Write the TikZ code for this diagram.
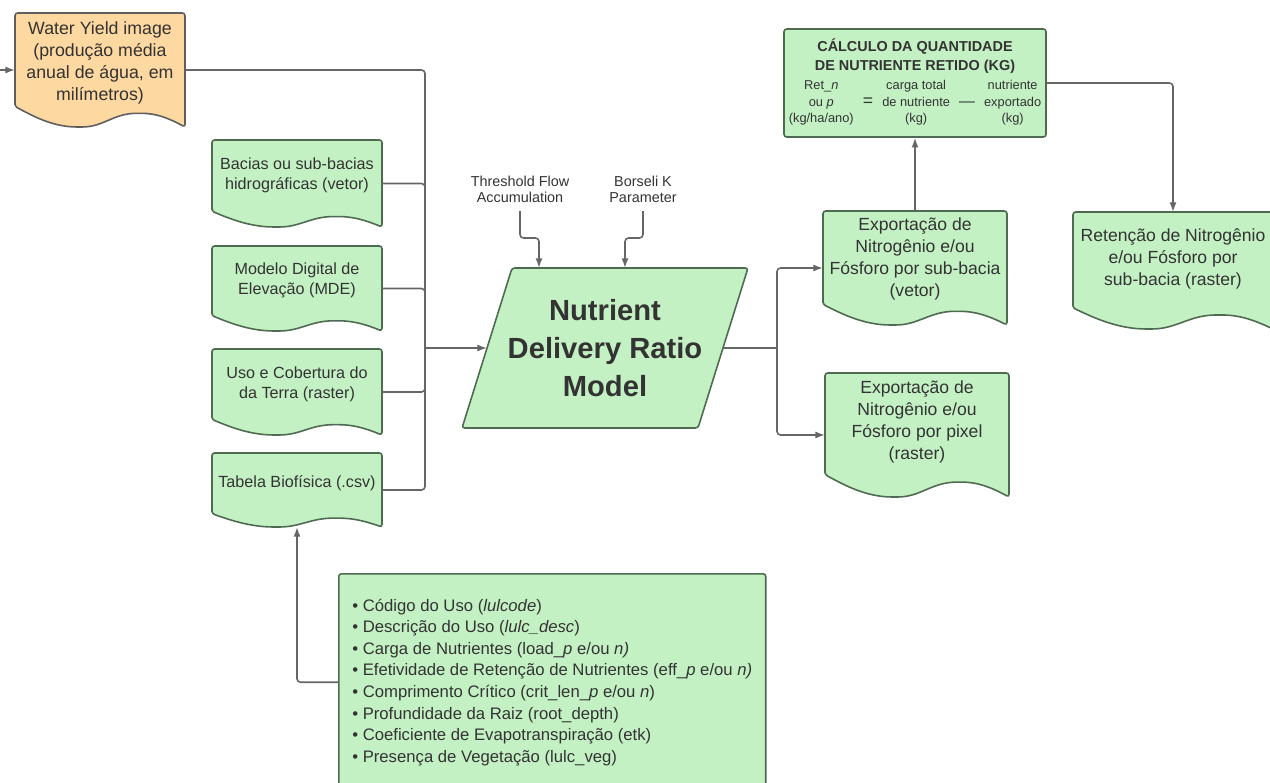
\documentclass[tikz,border=0pt]{standalone}
\usepackage{fontspec}
\setmainfont{Liberation Sans}
\usetikzlibrary{arrows.meta,calc,backgrounds}
\definecolor{NDRgreen}{HTML}{C4F1C4}
\definecolor{NDRedge}{HTML}{4E6A50}
\definecolor{NDRorange}{HTML}{FDD8A0}
\definecolor{NDRgrey}{HTML}{5E5E5E}
\definecolor{NDRline}{HTML}{666666}
\definecolor{NDRtext}{HTML}{333333}

% document shape with wavy bottom, drawn round a frame node
\newcommand{\docshape}[3]{%
  \draw[boxline, draw=#3, fill=#2]
    let \p1=(#1.north west), \p2=(#1.south east),
        \n1={\x2-\x1}, \n2={\y1-\y2} in
    (\x1,\y2+0.18*\n2) -- (\x1,\y1) -- (\x2,\y1) -- (\x2,\y2)
    .. controls (\x2-0.1*\n1,\y2+0.08*\n2) and (\x2-0.17*\n1,\y2+0.12*\n2) .. (\x1+0.73*\n1,\y2+0.12*\n2)
    .. controls (\x1+0.58*\n1,\y2+0.12*\n2) and (\x1+0.52*\n1,\y2) .. (\x1+0.38*\n1,\y2)
    .. controls (\x1+0.22*\n1,\y2) and (\x1+0.1*\n1,\y2+0.1*\n2) .. (\x1,\y2+0.18*\n2) -- cycle;
}

\tikzset{
  boxline/.style={draw=NDRedge, line width=0.9pt, rounded corners=1.5pt},
  docframe/.style={inner sep=0pt, outer sep=0pt},
  smalltext/.style={text=NDRtext, align=center, font=\fontsize{9.2}{11.3}\selectfont},
  midtext/.style={text=NDRtext, align=center, font=\fontsize{10}{12.5}\selectfont},
  paramtext/.style={text=NDRtext, align=center, inner xsep=1pt, inner ysep=4.5pt,
    font=\fontsize{8.2}{9.1}\selectfont},
  line/.style={draw=NDRline, line width=0.9pt, rounded corners=2pt},
  arr/.style={line, -{Latex[length=5.5pt,width=4pt]}}
}

\begin{document}
\begin{tikzpicture}[x=0.02cm, y=-0.02cm]
  \useasboundingbox (0,0) rectangle (1270,782);
  \clip (0,0) rectangle (1270,782);

  % inputs (left column)
  \node[docframe, minimum width=3.4cm, minimum height=2.28cm,
    label={[midtext, name=watertxt, yshift=0.14cm, font=\fontsize{10.1}{12.5}\selectfont]center:{Water Yield image\\(produção média\\anual de água, em\\milímetros)}}]
    (water) at (100,70) {};
  \node[docframe, minimum width=3.4cm, minimum height=1.74cm,
    label={[smalltext, name=baciastxt, yshift=0.16cm]center:{Bacias ou sub-bacias\\hidrográficas (vetor)}}]
    (bacias) at (297,183.5) {};
  \node[docframe, minimum width=3.4cm, minimum height=1.70cm,
    label={[smalltext, name=modelotxt, yshift=0.17cm]center:{Modelo Digital de\\Elevação (MDE)}}]
    (modelo) at (297,288.5) {};
  \node[docframe, minimum width=3.4cm, minimum height=1.72cm,
    label={[smalltext, name=usotxt, yshift=0.16cm]center:{Uso e Cobertura do\\da Terra (raster)}}]
    (uso) at (297,392) {};
  \node[docframe, minimum width=3.4cm, minimum height=1.48cm,
    label={[smalltext, name=tabelatxt, yshift=0.14cm]center:{Tabela Biofísica (.csv)}}]
    (tabela) at (297,490) {};

  % model
  \node[docframe, minimum width=4.72cm, minimum height=3.2cm, text=NDRtext, align=center,
    font=\fontsize{16.6}{21.5}\selectfont\bfseries] (ndr) at (605,348)
    {Nutrient\\Delivery Ratio\\Model};
  \node[paramtext, anchor=south] (thr) at (520,211) {Threshold Flow\\Accumulation};
  \node[paramtext, anchor=south] (bors) at (643,211) {Borseli K\\Parameter};

  % outputs
  \node[docframe, minimum width=3.68cm, minimum height=2.28cm,
    label={[midtext, name=expstxt, yshift=0.18cm]center:{Exportação de\\Nitrogênio e/ou\\Fósforo por sub-bacia\\(vetor)}}]
    (exps) at (915,268) {};
  \node[docframe, minimum width=3.68cm, minimum height=2.48cm,
    label={[midtext, name=expptxt, yshift=0.26cm]center:{Exportação de\\Nitrogênio e/ou\\Fósforo por pixel\\(raster)}}]
    (expp) at (917,435) {};
  \node[docframe, minimum width=4.0cm, minimum height=2.34cm,
    label={[midtext, name=rettxt, yshift=0.24cm]center:{Retenção de Nitrogênio\\e/ou Fósforo por\\sub-bacia (raster)}}]
    (ret) at (1173,270.5) {};

  \node[boxline, fill=NDRgreen, minimum width=5.24cm, minimum height=2.16cm, inner sep=0pt,
    text=NDRtext, align=center, font=\fontsize{8.2}{11.3}\selectfont] (calc) at (915,83)
    {\textbf{CÁLCULO DA QUANTIDADE}\\\textbf{DE NUTRIENTE RETIDO (KG)}\\[1.5pt]
     {\fontsize{7.3}{9.4}\selectfont\setlength{\tabcolsep}{2.6pt}%
      \begin{tabular}{ccccc}
        Ret\_\textit{n} & & carga total & & nutriente\\
        ou \textit{p} & {\fontsize{10}{10}\selectfont =} & de nutriente & {\fontsize{9}{9}\selectfont ---} & exportado\\
        (kg/ha/ano) & & (kg) & & (kg)
      \end{tabular}}};

  % biophysical table fields
  \node[boxline, fill=NDRgreen, anchor=north west, minimum width=8.54cm, minimum height=4.34cm,
    inner sep=0pt, text=NDRtext, align=left, font=\fontsize{9.5}{12.3}\selectfont] (campos) at (338,573)
    {• Código do Uso (\textit{lulcode})\\
     • Descrição do Uso (\textit{lulc\_desc})\\
     • Carga de Nutrientes (load\_\textit{p} e/ou \textit{n)}\\
     • Efetividade de Retenção de Nutrientes (eff\_\textit{p} e/ou \textit{n)}\\
     • Comprimento Crítico (crit\_len\_\textit{p} e/ou \textit{n})\\
     • Profundidade da Raiz (root\_depth)\\
     • Coeficiente de Evapotranspiração (etk)\\
     • Presença de Vegetação (lulc\_veg)};

  % shapes behind the texts
  \begin{scope}[on background layer]
    \docshape{water}{NDRorange}{NDRgrey}
    \docshape{bacias}{NDRgreen}{NDRedge}
    \docshape{modelo}{NDRgreen}{NDRedge}
    \docshape{uso}{NDRgreen}{NDRedge}
    \docshape{tabela}{NDRgreen}{NDRedge}
    \docshape{exps}{NDRgreen}{NDRedge}
    \docshape{expp}{NDRgreen}{NDRedge}
    \docshape{ret}{NDRgreen}{NDRedge}
    \draw[boxline, fill=NDRgreen] ([xshift=-0.5cm]ndr.south west) -- ([xshift=0.5cm]ndr.north west)
      -- ([xshift=0.5cm]ndr.north east) -- ([xshift=-0.5cm]ndr.south east) -- cycle;
  \end{scope}

  % connectors
  \coordinate (wyin) at (0,70);
  \coordinate (jin) at (425,348);
  \coordinate (jout) at (777,348);
  \draw[arr] (wyin) -- (water.west);
  \draw[line] (water.east) -| (jin);
  \draw[line] (bacias.east) -| (jin);
  \draw[line] (modelo.east) -| (jin);
  \draw[line] (uso.east) -| (jin);
  \draw[line] (tabela.east) -| (jin);
  \draw[arr] (jin) -- (ndr.west);
  \draw[arr] (thr.south) -- ++(0,27) -- ++(19,0) -- ++(0,30);
  \draw[arr] (bors.south) -- ++(0,27) -- ++(-18,0) -- ++(0,30);
  \draw[line] (ndr.east) -- (jout);
  \draw[arr] (jout) |- (exps.west);
  \draw[arr] (jout) |- (expp.west);
  \draw[arr] (exps.north) -- (calc.south);
  \draw[arr] (calc.east) -| (ret.north);
  \draw[arr] (campos.west) -| (tabela.south);
\end{tikzpicture}
\end{document}
